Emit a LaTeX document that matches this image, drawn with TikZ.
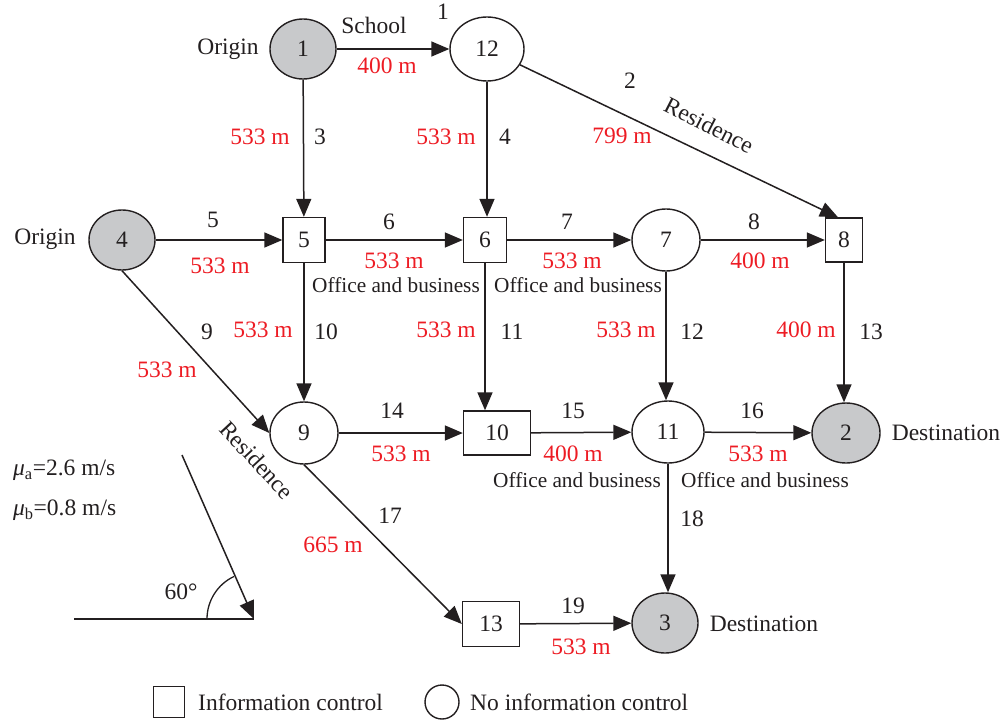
\documentclass[tikz,border=0pt]{standalone}
\usepackage{fontspec}
\setmainfont{Liberation Serif}
\usetikzlibrary{shapes.geometric,arrows.meta}
\definecolor{nodegray}{RGB}{200,201,203}
\definecolor{txt}{RGB}{35,31,32}
\definecolor{lred}{RGB}{237,28,36}
\newcommand{\fs}{\fontsize{23.5}{27}\selectfont}
\newcommand{\fo}{\fontsize{21.3}{25}\selectfont}
\tikzset{
  base/.style={draw=txt, line width=1.4pt, inner sep=0pt, font=\fs, text=txt},
  oc/.style={base, ellipse, minimum width=70pt, minimum height=63pt},
  gc/.style={base, ellipse, fill=nodegray, minimum width=66pt, minimum height=60pt},
  sq/.style={base, rectangle, minimum width=42pt, minimum height=45pt},
  conn/.style={draw=txt, line width=1.5pt, -{Triangle[length=18pt,width=15pt]}},
  plain/.style={draw=txt, line width=1.5pt},
  lbl/.style={font=\fs, text=txt, inner sep=0pt},
  ob/.style={font=\fo, text=txt, inner sep=0pt},
  rl/.style={font=\fs, text=lred, inner sep=0pt}
}
\begin{document}
\begin{tikzpicture}[x=1pt,y=-1pt]
\useasboundingbox (0,0) rectangle (1006,720);
% nodes
\node[gc] (n1) at (303,49) {1};
\node[oc, minimum width=74pt, minimum height=64pt] (n12) at (487,49) {12};
\node[gc] (n4) at (122,240) {4};
\node[sq] (n5) at (304,240) {5};
\node[sq, minimum width=43pt] (n6) at (485,240) {6};
\node[oc, minimum width=68pt, minimum height=62pt] (n7) at (666,240) {7};
\node[sq, minimum width=37pt, minimum height=44pt] (n8) at (844,240) {8};
\node[oc, minimum width=68pt, minimum height=62pt] (n9) at (304,433) {9};
\node[sq, minimum width=67pt, minimum height=44pt] (n10) at (497,433) {10};
\node[oc, minimum width=72pt, minimum height=62pt] (n11) at (668,432) {11};
\node[gc, minimum width=68pt] (n2) at (846,433) {2};
\node[sq, minimum width=57pt, minimum height=45pt] (n13) at (491,624) {13};
\node[gc] (n3) at (665,623) {3};
% edges
\draw[conn] (n1) -- (n12);
\draw[conn] (n12) -- ([xshift=-6pt]n8.north);
\draw[conn] (n1) -- (n5);
\draw[conn] (n12) -- (n12 |- n6.north);
\draw[conn] (n4) -- (n5);
\draw[conn] (n5) -- (n6);
\draw[conn] (n6) -- (n7);
\draw[conn] (n7) -- (n8);
\draw[conn] (n8) -- (n8 |- n2.north);
\draw[conn] (n5) -- (n9);
\draw[conn] (n6) -- (n6 |- n10.north);
\draw[conn] (n7) -- (n7 |- n11.north);
\draw[conn] (n4.south) -- (n9.west);
\draw[conn] (n9) -- (n10);
\draw[conn] (n10) -- (n11);
\draw[conn] (n11) -- (n2);
\draw[conn] (n9.south) -- (n13.west);
\draw[conn] (n11) -- (n11 |- n3.north);
\draw[conn] (n13) -- (n3);
% side labels
\node[lbl] (o1) at (228,49) {Origin};
\node[lbl] (o4) at (45,239) {Origin};
\node[lbl] (d2) at (946,433) {Destination};
\node[lbl] (d3) at (764,624) {Destination};
% edge labels
\node[lbl] (s1) at (374,25) {School};
\node[lbl] (e1) at (443,12) {1};
\node[rl] (r1) at (387,66) {400 m};
\node[lbl] (e2) at (630,81) {2};
\node[lbl, rotate=-27] (res1) at (709,125) {Residence};
\node[rl] (r2) at (622,136) {799 m};
\node[rl] (r3) at (260,137) {533 m};
\node[lbl] (e3) at (320,137) {3};
\node[rl] (r4) at (446,137) {533 m};
\node[lbl] (e4) at (505,137) {4};
\node[lbl] (e5) at (213,220) {5};
\node[rl] (r5) at (220,266) {533 m};
\node[lbl] (e6) at (389,222) {6};
\node[rl] (r6) at (394,261) {533 m};
\node[ob] (ob1) at (396,285) {Office and business};
\node[lbl] (e7) at (567,222) {7};
\node[rl] (r7) at (572,261) {533 m};
\node[ob] (ob2) at (578,285) {Office and business};
\node[lbl] (e8) at (754,222) {8};
\node[rl] (r8) at (760,261) {400 m};
\node[rl] (r13) at (806,330) {400 m};
\node[lbl] (e13) at (871,332) {13};
\node[rl] (r10) at (263,330) {533 m};
\node[lbl] (e10) at (326,332) {10};
\node[rl] (r11) at (446,330) {533 m};
\node[lbl] (e11) at (512,332) {11};
\node[rl] (r12) at (626,330) {533 m};
\node[lbl] (e12) at (692,332) {12};
\node[lbl] (e9) at (207,332) {9};
\node[rl] (r9) at (167,370) {533 m};
\node[lbl, rotate=-47] (res2) at (257,460) {Residence};
\node[lbl] (e14) at (392,411) {14};
\node[rl] (r14) at (401,454) {533 m};
\node[lbl] (e15) at (573,411) {15};
\node[rl] (r15) at (573,454) {400 m};
\node[ob] (ob3) at (577,480) {Office and business};
\node[lbl] (e16) at (752,411) {16};
\node[rl] (r16) at (758,454) {533 m};
\node[ob] (ob4) at (765,480) {Office and business};
\node[lbl] (e17) at (390,516) {17};
\node[rl] (r17) at (333,545) {665 m};
\node[lbl] (e18) at (692,519) {18};
\node[lbl] (e19) at (573,606) {19};
\node[rl] (r19) at (581,647) {533 m};
% speed texts
\node[lbl, anchor=west] (mua) at (13,470) {\textit{μ}\textsubscript{a}=2.6 m/s};
\node[lbl, anchor=west] (mub) at (13,510) {\textit{μ}\textsubscript{b}=0.8 m/s};
% angle figure
\coordinate (hl) at (74,619);
\coordinate (tip) at (254,619);
\coordinate (tail) at (182,455);
\draw[plain] (hl) -- (tip);
\draw[conn] (tail) -- (tip);
\draw[draw=txt, line width=1.3pt] (207,619) arc[start angle=180, end angle=245, radius=47];
\node[lbl] (ang) at (181,592) {60°};
% legend
\node[base, rectangle, minimum width=31pt, minimum height=31pt] (lsq) at (169,702) {};
\node[lbl, anchor=west] (lt1) at (198,702) {Information control};
\node[base, circle, minimum size=34pt] (lci) at (442,702) {};
\node[lbl, anchor=west] (lt2) at (470,702) {No information control};
\end{tikzpicture}
\end{document}
